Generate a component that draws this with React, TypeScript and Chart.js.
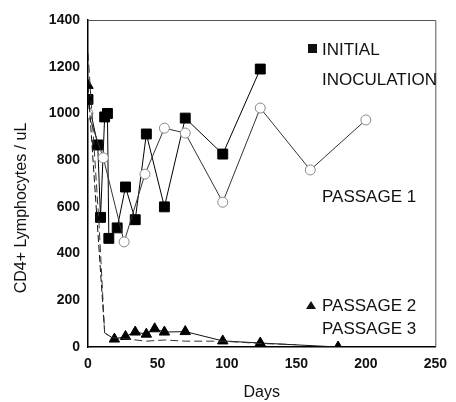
import React, { useEffect, useRef } from "react";
import { Chart, registerables } from "chart.js";

Chart.register(...registerables);

const initialDays = [0, 7, 9, 12, 14, 15, 21, 27, 34, 42, 55, 70, 97, 124];
const initialVals = [1060, 865, 555, 985, 1000, 465, 510, 685, 545, 912, 600, 980, 826, 1190];

const p1Days = [0, 11, 26, 41, 55, 70, 97, 124, 160, 200];
const p1Vals = [1000, 810, 450, 740, 937, 916, 620, 1023, 758, 972];

const p2Days = [0, 12, 19, 27, 34, 42, 48, 55, 70, 97, 124, 180];
const p2Vals = [1120, 60, 34, 45, 64, 55, 78, 64, 66, 26, 17, 0];

const p3Days = [0, 8, 12, 17, 27, 42, 55, 70, 97, 124, 150];
const p3Vals = [1260, 520, 60, 40, 35, 25, 30, 25, 25, 15, 10];

const xTicks = [0, 50, 100, 150, 200, 250];
const yTicks = [0, 200, 400, 600, 800, 1000, 1200, 1400];

const toPts = (d: number[], v: number[]) => d.map((x, i) => ({ x, y: v[i] }));

const FONT = "'Liberation Sans', Arial, sans-serif";

const framePlugin = {
  id: "frame",
  afterDraw(chart: any) {
    const { ctx, chartArea: a } = chart;
    ctx.save();
    ctx.strokeStyle = "#555";
    ctx.lineWidth = 1;
    ctx.beginPath();
    ctx.moveTo(a.left, a.top + 0.5);
    ctx.lineTo(a.right + 0.5, a.top + 0.5);
    ctx.lineTo(a.right + 0.5, a.bottom);
    ctx.stroke();
    ctx.fillStyle = "#111";
    ctx.font = `17px ${FONT}`;
    ctx.textBaseline = "middle";
    ctx.textAlign = "left";
    ctx.fillRect(308, 44, 9, 9);
    ctx.fillText("INITIAL", 322, 50);
    ctx.fillText("INOCULATION", 322, 80);
    ctx.fillText("PASSAGE 1", 322, 197);
    ctx.beginPath();
    ctx.moveTo(311, 301);
    ctx.lineTo(316, 309);
    ctx.lineTo(306, 309);
    ctx.closePath();
    ctx.fill();
    ctx.fillText("PASSAGE 2", 322, 306);
    ctx.fillText("PASSAGE 3", 322, 329);
    ctx.translate(22, 208);
    ctx.rotate(-Math.PI / 2);
    ctx.textAlign = "center";
    ctx.font = `16px ${FONT}`;
    ctx.fillText("CD4+ Lymphocytes / uL", 0, 0);
    ctx.restore();
  },
};

export default function App() {
  const ref = useRef<HTMLCanvasElement>(null);
  useEffect(() => {
    const font = { family: FONT };
    const chart = new Chart(ref.current!, {
      type: "line",
      data: {
        datasets: [
          {
            label: "Passage 3",
            data: toPts(p3Days, p3Vals),
            borderColor: "#333",
            borderWidth: 1,
            borderDash: [8, 4],
            pointRadius: 0,
            fill: false,
          },
          {
            label: "Passage 2",
            data: toPts(p2Days, p2Vals),
            borderColor: "#111",
            borderWidth: 1,
            pointStyle: "triangle",
            pointRadius: p2Days.map((_, i) => (i === 1 ? 0 : 6)),
            backgroundColor: "#000",
            pointBorderColor: "#000",
            segment: { borderDash: (c: any) => (c.p0DataIndex < 2 ? [7, 3] : undefined) },
            fill: false,
          },
          {
            label: "Passage 1",
            data: toPts(p1Days, p1Vals),
            borderColor: "#333",
            borderWidth: 1,
            pointStyle: "circle",
            pointRadius: 5,
            backgroundColor: "#fff",
            pointBorderColor: "#888",
            pointBorderWidth: 1,
            fill: false,
          },
          {
            label: "Initial inoculation",
            data: toPts(initialDays, initialVals),
            borderColor: "#000",
            borderWidth: 1,
            pointStyle: "rect",
            pointRadius: 7,
            backgroundColor: "#000",
            pointBorderColor: "#000",
            fill: false,
          },
        ],
      },
      options: {
        animation: false,
        responsive: false,
        layout: { padding: { top: 20, right: 12, left: 0, bottom: 0 } },
        plugins: { legend: { display: false }, tooltip: { enabled: false } },
        scales: {
          x: {
            type: "linear",
            min: 0,
            max: 250,
            afterBuildTicks: (s: any) => {
              s.ticks = xTicks.map((v) => ({ value: v }));
            },
            afterFit: (s: any) => {
              s.height = 55;
            },
            grid: { display: false, drawTicks: false },
            border: { display: true, color: "#000", width: 1.5 },
            ticks: {
              color: "#111",
              padding: 9,
              font: { ...font, size: 14, weight: "bold" },
              callback: (v: any) => String(v),
            },
            title: {
              display: true,
              text: "Days",
              color: "#111",
              padding: { top: 8, bottom: 0 },
              font: { ...font, size: 16 },
            },
          },
          y: {
            type: "linear",
            min: 0,
            max: 1400,
            afterBuildTicks: (s: any) => {
              s.ticks = yTicks.map((v) => ({ value: v }));
            },
            afterFit: (s: any) => {
              s.width = 88;
            },
            grid: { display: false, drawTicks: false },
            border: { display: true, color: "#000", width: 1.5 },
            ticks: {
              color: "#111",
              padding: 8,
              font: { ...font, size: 14, weight: "bold" },
              callback: (v: any) => String(v),
            },
            title: { display: false },
          },
        },
      },
      plugins: [framePlugin],
    } as any);
    return () => chart.destroy();
  }, []);
  return (
    <div style={{ position: "fixed", left: 0, top: 0, width: 456, height: 402, background: "#fff" }}>
      <canvas ref={ref} width={456} height={402} />
    </div>
  );
}
